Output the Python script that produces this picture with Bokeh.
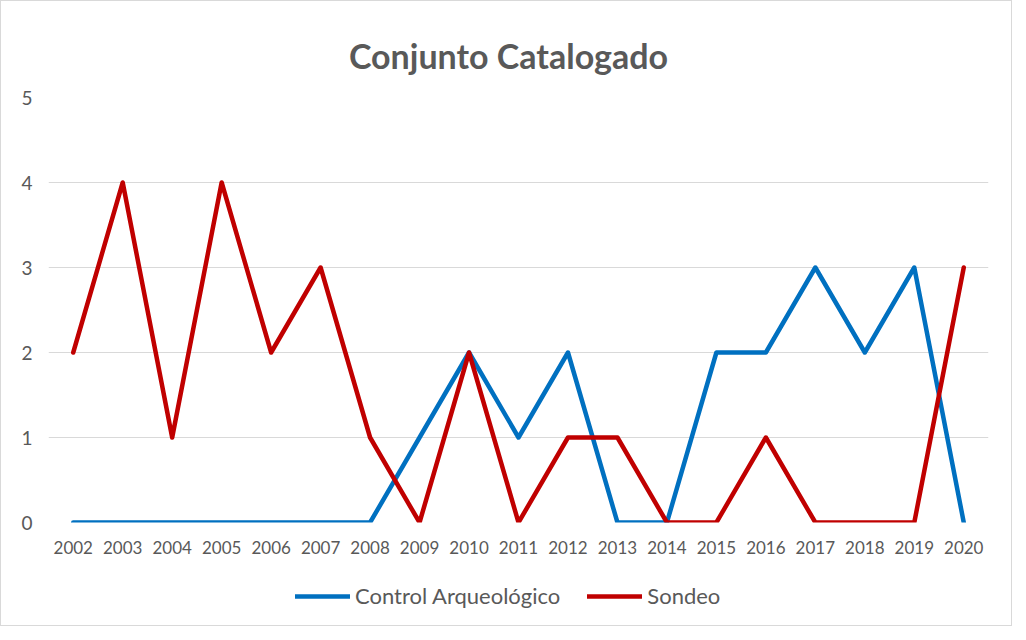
from bokeh.plotting import figure
from bokeh.layouts import column
from bokeh.models import Legend, LegendItem, FixedTicker, Label
from bokeh.embed import file_html
from bokeh.resources import INLINE

years = [str(y) for y in range(2002, 2021)]
control = [0, 0, 0, 0, 0, 0, 0, 1, 2, 1, 2, 0, 0, 2, 2, 3, 2, 3, 0]
sondeo = [2, 4, 1, 4, 2, 3, 1, 0, 2, 0, 1, 1, 0, 0, 1, 0, 0, 0, 3]
y_ticks = [0, 1, 2, 3, 4, 5]
title_text = "Conjunto Catalogado"
series_names = ["Control Arqueológico", "Sondeo"]
colors = ["#0070C0", "#C00000"]

FONT = "Lato"
GRAY = "#595959"


def strip(h):
    s = figure(x_range=years, y_range=(0, 5), width=1010, height=h,
               output_backend="svg", toolbar_location=None,
               x_axis_type=None, y_axis_type=None, min_border=0)
    s.outline_line_color = None
    s.xgrid.grid_line_color = None
    s.ygrid.grid_line_color = None
    return s


# title strip
tt = strip(80)
tt.add_layout(Label(x=460, y=26, x_units="screen", y_units="screen",
                    text=title_text, text_font=FONT,
                    text_font_size="34px", text_font_style="bold",
                    text_color=GRAY, text_align="center",
                    text_baseline="alphabetic"))

# main chart
p = figure(x_range=years, y_range=(0, 5), width=1010, height=490,
           output_backend="svg", toolbar_location=None,
           min_border_left=47, min_border_right=23,
           min_border_top=16, min_border_bottom=49)
p.outline_line_color = None

p.xgrid.grid_line_color = None
p.ygrid.grid_line_color = "#d9d9d9"
p.ygrid.grid_line_width = 1
p.yaxis.ticker = FixedTicker(ticks=y_ticks)

for ax in (p.xaxis[0], p.yaxis[0]):
    ax.axis_line_color = None
    ax.major_tick_line_color = None
    ax.minor_tick_line_color = None
    ax.major_label_text_color = GRAY
    ax.major_label_text_font = FONT
p.yaxis.major_label_text_font_size = "19px"
p.yaxis.major_label_standoff = 10
p.xaxis.major_label_text_font_size = "17px"
p.xaxis.major_label_standoff = 12

for vals, col in zip([control, sondeo], colors):
    p.line(years, vals, line_color=col, line_width=4.5,
           line_join="round", line_cap="round")

# legend strip (separate figure so the legend is not clipped by the frame)
lg = strip(54)
items = []
for vals, col, name in zip([control, sondeo], colors, series_names):
    r = lg.line(years, vals, line_color=col, line_width=4.5, line_cap="round")
    r.visible = False
    items.append(LegendItem(label=name, renderers=[r]))

legend = Legend(items=items, location=(247, 16), orientation="horizontal",
                border_line_color=None, background_fill_alpha=0,
                inactive_fill_alpha=0,
                padding=0, margin=0, spacing=27, label_standoff=5,
                glyph_width=55, glyph_height=20, label_height=20,
                label_text_font=FONT, label_text_font_size="22px",
                label_text_color=GRAY)
lg.add_layout(legend, "center")

layout = column(tt, p, lg, spacing=0)
layout.styles = {"border": "1px solid #d9d9d9"}

open("out.html", "w").write(file_html(layout, INLINE))
